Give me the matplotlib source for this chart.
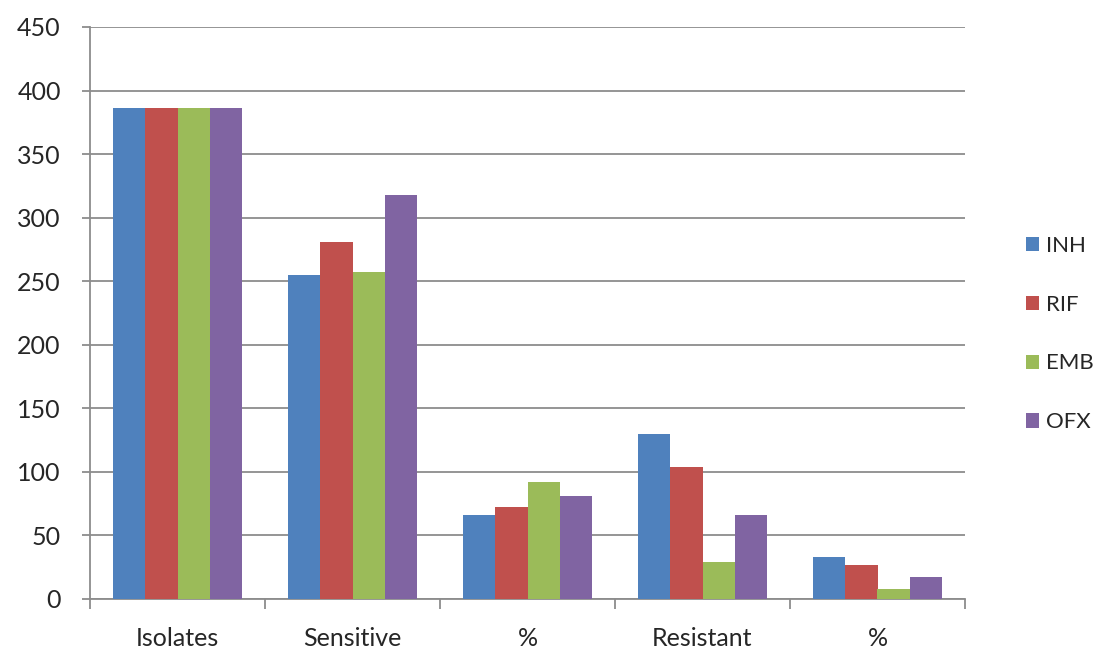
import matplotlib
matplotlib.use("Agg")
import matplotlib.pyplot as plt
import numpy as np

categories = ["Isolates", "Sensitive", "%", "Resistant", "%"]
series_names = ["INH", "RIF", "EMB", "OFX"]
inh = [386, 255, 66, 130, 33]
rif = [386, 281, 72, 104, 27]
emb = [386, 257, 92, 29, 8]
ofx = [386, 318, 81, 66, 17]
y_ticks = [0, 50, 100, 150, 200, 250, 300, 350, 400, 450]

series_values = [inh, rif, emb, ofx]
colors = ["#4F81BD", "#C0504D", "#9BBB59", "#8064A2"]
grid_col = "#8C8C8C"
text_col = "#262626"

plt.rcParams["font.family"] = ["Lato", "DejaVu Sans"]

fig = plt.figure(figsize=(11.10, 6.52), dpi=100)
ax = fig.add_axes([90 / 1110, 53 / 652, 875 / 1110, 572 / 652])

x = np.arange(len(categories))
bar_w = 0.184
for i, (name, vals, c) in enumerate(zip(series_names, series_values, colors)):
    ax.bar(x + (i - 1.5) * bar_w, vals, width=bar_w, color=c, label=name,
           zorder=3, linewidth=0)

ax.set_xlim(-0.5, len(categories) - 0.5)
ax.set_ylim(0, 450)
ax.set_yticks(y_ticks)
ax.set_yticklabels([str(t) for t in y_ticks])

ax.grid(axis="y", color=grid_col, linewidth=1.3, zorder=0)
for side in ("top", "right"):
    ax.spines[side].set_visible(False)
for side in ("left", "bottom"):
    ax.spines[side].set_color(grid_col)
    ax.spines[side].set_linewidth(1.3)

ax.set_xticks(x)
ax.set_xticklabels(categories)
ax.set_xticks(np.arange(-0.5, len(categories), 1.0), minor=True)
ax.tick_params(axis="x", which="major", length=0, pad=20,
               labelsize=18, labelcolor=text_col)
ax.tick_params(axis="x", which="minor", length=7, width=1.3, color=grid_col,
               direction="out")
ax.tick_params(axis="y", which="major", length=6, width=1.3, color=grid_col,
               pad=15, labelsize=18, labelcolor=text_col)

handles, labels = ax.get_legend_handles_labels()
leg = fig.legend(handles, labels, loc="center left",
                 bbox_to_anchor=(1006 / 1110, 318 / 652), frameon=False,
                 fontsize=16, labelspacing=1.75, handlelength=0.6,
                 handleheight=0.6, handletextpad=0.3, labelcolor=text_col)

fig.savefig("out.png", dpi=100, facecolor="white")
